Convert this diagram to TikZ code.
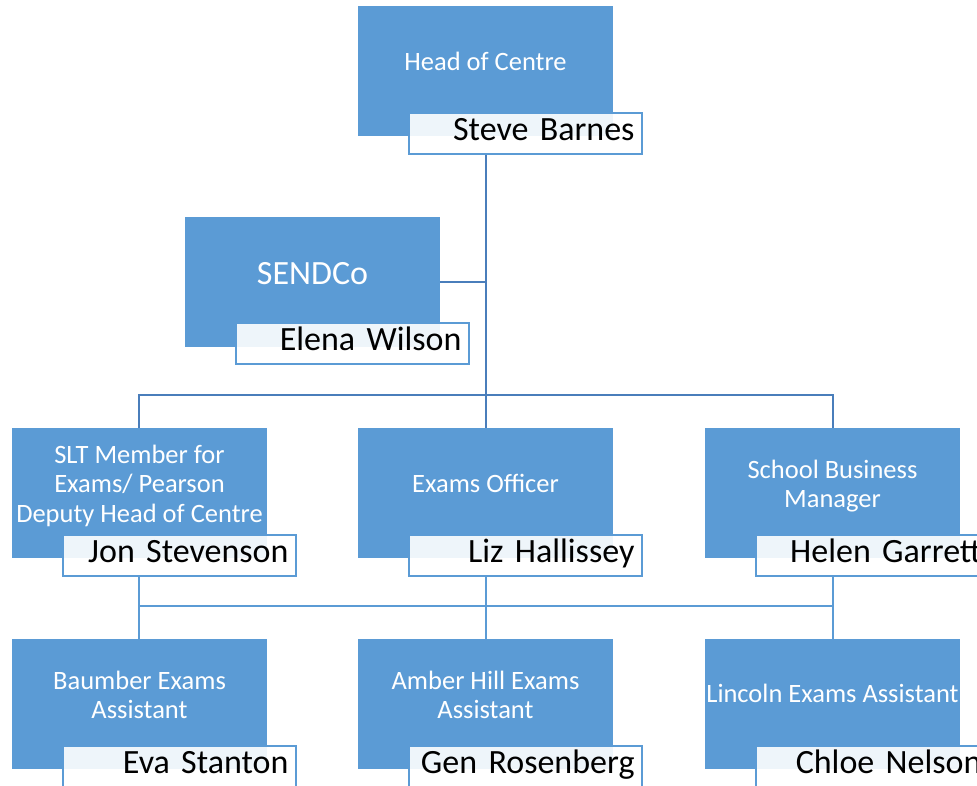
\documentclass[tikz,border=0pt]{standalone}
\usepackage{fontspec}
\setmainfont{Carlito}
\definecolor{boxblue}{HTML}{5B9BD5}
\definecolor{lineup}{HTML}{4A7EBB}
\definecolor{linelow}{HTML}{5B9BD5}
\newcommand\tst{\rule[-5.5pt]{0pt}{28pt}}
\begin{document}
\begin{tikzpicture}[x=1pt,y=-1pt,
  rolebox/.style={fill=boxblue, draw=none, minimum width=255pt, minimum height=130pt, inner sep=0pt},
  roletext/.style={text=white, align=center, inner sep=0pt, font=\fontsize{26.5}{29.5}\selectfont},
  namebox/.style={fill=white, fill opacity=0.9, text opacity=1, draw=boxblue, draw opacity=1, line width=2pt,
    minimum width=233pt, minimum height=41pt, inner xsep=7pt, inner ysep=0pt, text width=219pt, align=right,
    text height=24pt, text depth=9pt, font=\fontsize{34}{40}\selectfont},
  upl/.style={draw=lineup, line width=2pt},
  lowl/.style={draw=linelow, line width=2pt}]
\useasboundingbox (0,0) rectangle (977,785);
% blue role boxes (x: left, y: top)
\node[rolebox, anchor=north west] (hoc) at (358,6) {};
\node[rolebox, anchor=north west] (sen) at (185,217) {};
\node[rolebox, anchor=north west] (slt) at (12,428) {};
\node[rolebox, anchor=north west] (exo) at (358,428) {};
\node[rolebox, anchor=north west] (sbm) at (705,428) {};
\node[rolebox, anchor=north west] (bea) at (12,639) {};
\node[rolebox, anchor=north west] (aha) at (358,639) {};
\node[rolebox, anchor=north west] (lea) at (705,639) {};
% role texts
\node[roletext] (thoc) at (485.5,62) {\tst Head of Centre};
\node[roletext, font=\fontsize{34}{40}\selectfont] (tsen) at (312.5,273) {\rule[-7pt]{0pt}{36pt}SENDCo};
\node[roletext] (tslt) at (139.5,484) {\tst SLT Member for\\\tst Exams/ Pearson\\\tst Deputy Head of Centre};
\node[roletext] (texo) at (485.5,484) {\tst Exams Officer};
\node[roletext] (tsbm) at (832.5,484.5) {\tst School Business\\\tst Manager};
\node[roletext] (tbea) at (139.5,695.5) {\tst Baumber Exams\\\tst Assistant};
\node[roletext] (taha) at (485.5,695.5) {\tst Amber Hill Exams\\\tst Assistant};
\node[roletext] (tlea) at (832.5,694) {\tst Lincoln Exams Assistant};
% name boxes
\node[namebox, anchor=north west] (nhoc) at (407.5,111.5) {Steve Barnes};
\node[namebox, anchor=north west] (nsen) at (234.5,321.5) {Elena Wilson};
\node[namebox, anchor=north west] (nslt) at (61.5,533.5) {Jon Stevenson};
\node[namebox, anchor=north west] (nexo) at (407.5,533.5) {Liz Hallissey};
\node[namebox, anchor=north west] (nsbm) at (754.5,533.5) {Helen Garrett};
\node[namebox, anchor=north west] (nbea) at (61.5,744.5) {Eva Stanton};
\node[namebox, anchor=north west] (naha) at (407.5,744.5) {Gen Rosenberg};
\node[namebox, anchor=north west] (nlea) at (754.5,744.5) {Chloe Nelson};
% upper connectors
\coordinate (j1) at (486,395);
\draw[upl] (nhoc.south -| j1) -- (j1);
\draw[upl] (sen.east) -- (sen.east -| j1);
\draw[upl] (slt.north -| 139,0) -- (139,395) -- (833,395) -- (sbm.north -| 833,0);
\draw[upl] (j1) -- (exo.north -| j1);
% lower connectors
\coordinate (j2) at (486,606);
\draw[lowl] (nslt.south -| 139,0) -- (bea.north -| 139,0);
\draw[lowl] (nexo.south -| j2) -- (aha.north -| j2);
\draw[lowl] (nsbm.south -| 833,0) -- (lea.north -| 833,0);
\draw[lowl] (139,606) -- (833,606);
\end{tikzpicture}
\end{document}
